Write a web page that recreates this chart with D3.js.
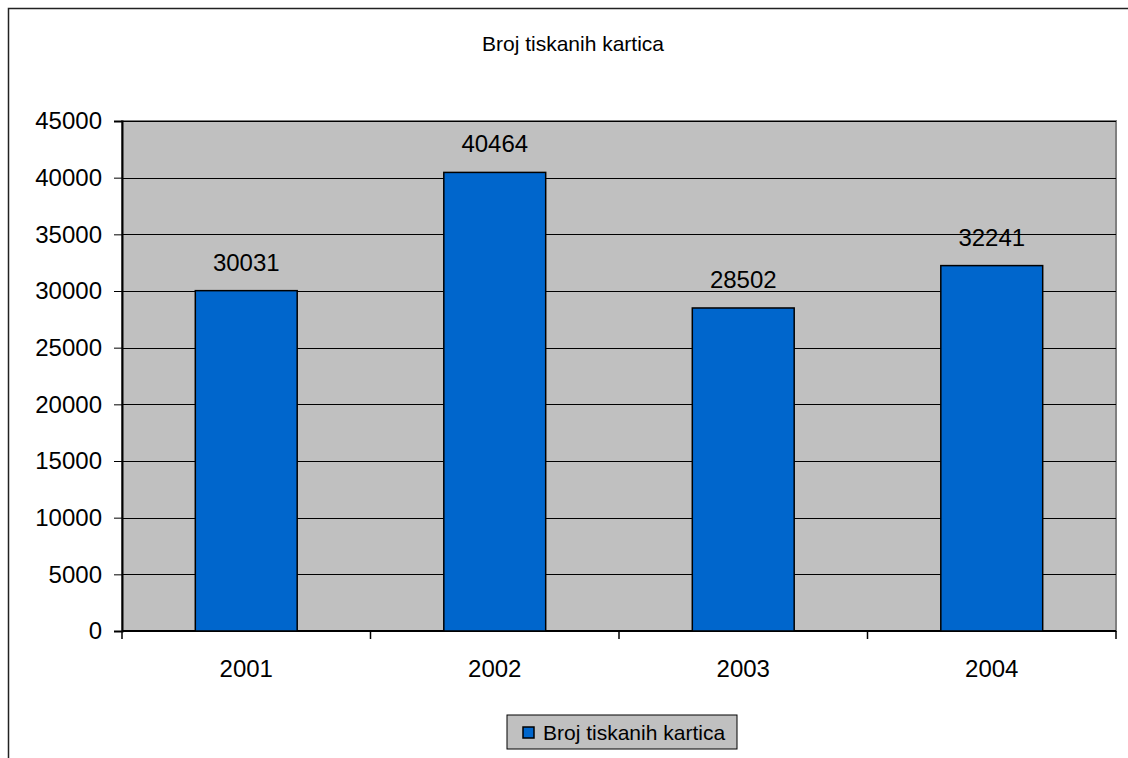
<!DOCTYPE html>
<html>
<head>
<meta charset="utf-8">
<script src="https://cdn.jsdelivr.net/npm/d3@7"></script>
<style>
  body { margin: 0; background: white; }
  text { font-family: "Liberation Sans", Arial, sans-serif; fill: black; }
</style>
</head>
<body>
<svg width="1128" height="758"></svg>
<script>
// data
const years = ["2001", "2002", "2003", "2004"];
const values = [30031, 40464, 28502, 32241];
const yTicks = [0, 5000, 10000, 15000, 20000, 25000, 30000, 35000, 40000, 45000];
const seriesName = "Broj tiskanih kartica";
const title = "Broj tiskanih kartica";

const svg = d3.select("svg");

const plot = { left: 122, top: 121, right: 1116, bottom: 631 };

// outer chart border (cropped at right and bottom)
svg.append("rect")
  .attr("x", 8.5).attr("y", 8.5)
  .attr("width", 1300).attr("height", 1000)
  .attr("fill", "white")
  .attr("stroke", "#222")
  .attr("stroke-width", 1.5);

const x = d3.scaleBand()
  .domain(years)
  .range([plot.left, plot.right])
  .padding(0);

const y = d3.scaleLinear()
  .domain([0, 45000])
  .range([plot.bottom, plot.top]);

// plot area
svg.append("rect")
  .attr("x", plot.left).attr("y", plot.top)
  .attr("width", plot.right - plot.left)
  .attr("height", plot.bottom - plot.top)
  .attr("fill", "#c0c0c0")
  .attr("stroke", "#808080")
  .attr("stroke-width", 2);

// gridlines
svg.append("g")
  .selectAll("line")
  .data(yTicks.filter(d => d > 0))
  .enter().append("line")
  .attr("x1", plot.left).attr("x2", plot.right)
  .attr("y1", d => Math.round(y(d)) + 0.5)
  .attr("y2", d => Math.round(y(d)) + 0.5)
  .attr("stroke", "black")
  .attr("stroke-width", 1);

// y axis
const yAxis = svg.append("g")
  .attr("transform", `translate(${plot.left},0)`)
  .call(d3.axisLeft(y).tickValues(yTicks).tickSize(8).tickPadding(12).tickFormat(d3.format("d")));
yAxis.select(".domain").attr("stroke", "black").attr("stroke-width", 2);
yAxis.selectAll(".tick line").attr("stroke", "black");
yAxis.selectAll("text").style("font-size", "24px").attr("fill", "black");

// x axis: ticks at category boundaries
const xAxis = svg.append("g")
  .attr("transform", `translate(0,${plot.bottom})`);
xAxis.append("line")
  .attr("x1", plot.left).attr("x2", plot.right)
  .attr("y1", 0).attr("y2", 0)
  .attr("stroke", "black").attr("stroke-width", 2);
xAxis.selectAll(".bt")
  .data(years.concat(["end"]))
  .enter().append("line")
  .attr("class", "bt")
  .attr("x1", (d, i) => i < years.length ? x(d) : plot.right)
  .attr("x2", (d, i) => i < years.length ? x(d) : plot.right)
  .attr("y1", 0).attr("y2", 8)
  .attr("stroke", "black").attr("stroke-width", 1.5);
xAxis.selectAll(".lbl")
  .data(years)
  .enter().append("text")
  .attr("class", "lbl")
  .attr("x", d => x(d) + x.bandwidth() / 2)
  .attr("y", 46)
  .attr("text-anchor", "middle")
  .style("font-size", "24px")
  .text(d => d);

// bars
const barW = x.bandwidth() * 0.41;
const data = years.map((yr, i) => ({ year: yr, value: values[i] }));

svg.append("g")
  .selectAll("rect")
  .data(data)
  .enter().append("rect")
  .attr("x", d => x(d.year) + x.bandwidth() / 2 - barW / 2)
  .attr("y", d => y(d.value))
  .attr("width", barW)
  .attr("height", d => plot.bottom - y(d.value))
  .attr("fill", "#0066cc")
  .attr("stroke", "black")
  .attr("stroke-width", 1.5);

// value labels
svg.append("g")
  .selectAll("text")
  .data(data)
  .enter().append("text")
  .attr("x", d => x(d.year) + x.bandwidth() / 2)
  .attr("y", d => y(d.value) - 20)
  .attr("text-anchor", "middle")
  .style("font-size", "24px")
  .text(d => d.value);

// title
svg.append("text")
  .attr("x", 573)
  .attr("y", 51)
  .attr("text-anchor", "middle")
  .style("font-size", "21px")
  .text(title);

// legend
const legend = svg.append("g").attr("transform", "translate(507,715)");
legend.append("rect")
  .attr("width", 230).attr("height", 34)
  .attr("fill", "#c0c0c0")
  .attr("stroke", "black")
  .attr("stroke-width", 1);
legend.append("rect")
  .attr("x", 16).attr("y", 12)
  .attr("width", 11).attr("height", 11)
  .attr("fill", "#0066cc")
  .attr("stroke", "black")
  .attr("stroke-width", 1.5);
legend.append("text")
  .attr("x", 36).attr("y", 25)
  .style("font-size", "21px")
  .text(seriesName);
</script>
</body>
</html>
